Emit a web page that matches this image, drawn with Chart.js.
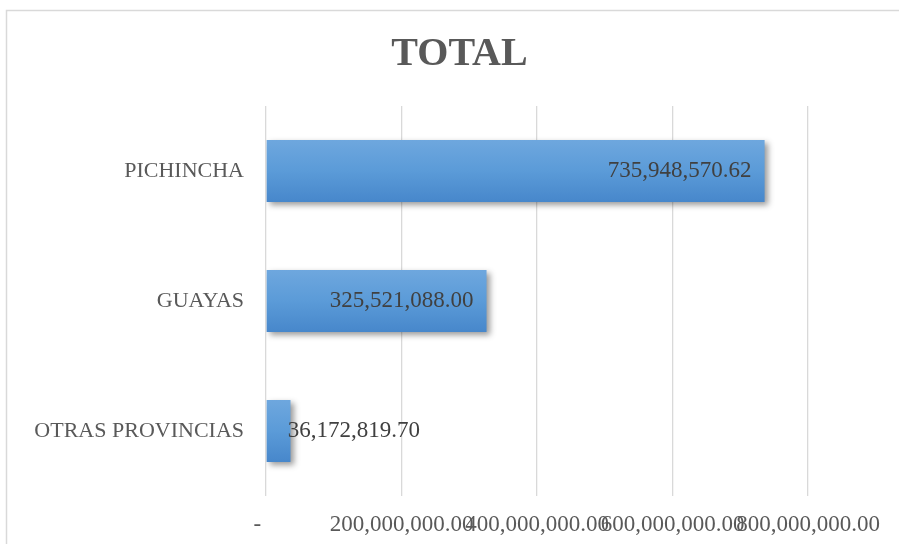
<!DOCTYPE html>
<html>
<head>
<meta charset="utf-8">
<script src="https://cdn.jsdelivr.net/npm/chart.js@4"></script>
<style>
  body { margin: 0; background: #fff; }
</style>
</head>
<body>
<canvas id="totalChart" width="899" height="544"></canvas>
<script>
// Chart data
var provincias = ['PICHINCHA', 'GUAYAS', 'OTRAS PROVINCIAS'];
var totales = [735948570.62, 325521088.00, 36172819.70];
var tickValues = [0, 200000000, 400000000, 600000000, 800000000];

var serif = "'Liberation Serif', 'Times New Roman', serif";
var barPct = 0.477;

function money(v) {
    return v.toLocaleString('en-US', { minimumFractionDigits: 2, maximumFractionDigits: 2 });
}

// gradient for each bar, built from the y scale
function barGradient(context) {
    var chart = context.chart;
    var y = chart.scales.y;
    if (!y || context.dataIndex === undefined) return '#5b9bd5';
    var center = y.getPixelForValue(context.dataIndex);
    var half = (y.height / provincias.length) * barPct / 2;
    if (!isFinite(center) || !isFinite(half) || half <= 0) return '#5b9bd5';
    var g = chart.ctx.createLinearGradient(0, center - half, 0, center + half);
    g.addColorStop(0, '#6ea7de');
    g.addColorStop(0.5, '#5b9bd8');
    g.addColorStop(1, '#4787cb');
    return g;
}

var frame = {
    id: 'frame',
    beforeDraw: function (chart) {
        var c = chart.ctx;
        c.save();
        c.fillStyle = '#ffffff';
        c.fillRect(0, 0, chart.width, chart.height);
        c.strokeStyle = '#d9d9d9';
        c.lineWidth = 1.5;
        c.strokeRect(6.5, 10.5, 1000, 1000);
        c.restore();
    }
};

var shadow = {
    id: 'shadow',
    beforeDatasetDraw: function (chart) {
        var c = chart.ctx;
        c.save();
        c.shadowColor = 'rgba(0,0,0,0.4)';
        c.shadowBlur = 6;
        c.shadowOffsetX = 3;
        c.shadowOffsetY = 3;
    },
    afterDatasetDraw: function (chart) {
        chart.ctx.restore();
    }
};

var labels = {
    id: 'labels',
    afterDatasetsDraw: function (chart) {
        var c = chart.ctx;
        var meta = chart.getDatasetMeta(0);
        c.save();
        c.font = '23px ' + serif;
        c.fillStyle = '#404040';
        c.textBaseline = 'middle';
        meta.data.forEach(function (bar, i) {
            var txt = money(totales[i]);
            var w = c.measureText(txt).width;
            if (w + 26 < bar.x - bar.base) {
                c.textAlign = 'right';
                c.fillText(txt, bar.x - 13, bar.y);
            } else {
                c.textAlign = 'left';
                c.fillText(txt, bar.base + 21, bar.y);
            }
        });
        c.restore();
    }
};

var ctx = document.getElementById('totalChart').getContext('2d');
var totalChart = new Chart(ctx, {
    type: 'bar',
    data: {
        labels: provincias,
        datasets: [{
            label: 'TOTAL',
            data: totales,
            backgroundColor: barGradient,
            borderWidth: 0,
            barPercentage: barPct,
            categoryPercentage: 1
        }]
    },
    options: {
        indexAxis: 'y',
        responsive: false,
        animation: false,
        events: [],
        layout: { padding: { top: 10, left: 20, right: 0, bottom: 0 } },
        plugins: {
            legend: { display: false },
            tooltip: { enabled: false },
            title: {
                display: true,
                text: 'TOTAL',
                color: '#595959',
                font: { family: serif, size: 40, weight: 'bold', lineHeight: 1.2 },
                padding: { top: 21, bottom: 27 }
            }
        },
        scales: {
            x: {
                min: 0,
                max: 800000000,
                afterBuildTicks: function (scale) {
                    scale.ticks = tickValues.map(function (v) { return { value: v }; });
                },
                afterFit: function (scale) {
                    scale.height = 48;
                    scale.paddingRight = 91;
                },
                grid: { color: '#d9d9d9', lineWidth: 1.3, drawTicks: false },
                border: { display: false },
                ticks: {
                    autoSkip: false,
                    maxRotation: 0,
                    minRotation: 0,
                    padding: 15,
                    color: '#595959',
                    font: { family: serif, size: 23 },
                    callback: function (v) { return v === 0 ? '-   ' : money(v); }
                }
            },
            y: {
                afterFit: function (scale) { scale.width = 246; },
                grid: { display: false },
                border: { display: false },
                ticks: {
                    padding: 14,
                    color: '#595959',
                    font: { family: serif, size: 22 }
                }
            }
        }
    },
    plugins: [frame, shadow, labels]
});
// second pass so the bar gradients follow the laid-out scale
totalChart.update();
</script>
</body>
</html>
